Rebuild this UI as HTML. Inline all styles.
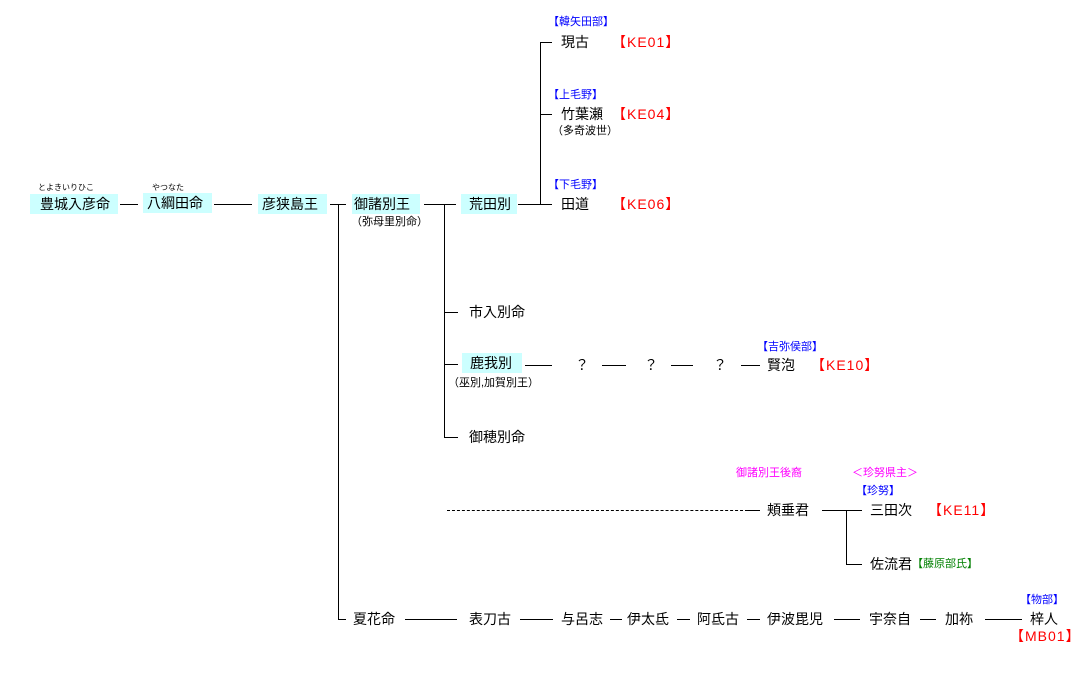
<!DOCTYPE html>
<html><head><meta charset="utf-8"><style>
body{margin:0;width:1085px;height:682px;background:#fff;position:relative;overflow:hidden;font-family:"Liberation Sans","Noto Sans CJK JP",sans-serif;color:#000}
.t{position:absolute;font-size:14px;line-height:20px;white-space:nowrap}
.s{position:absolute;font-size:11px;line-height:14px;white-space:nowrap}
.f{position:absolute;font-size:8px;line-height:10px;white-space:nowrap}
.b{background:#ccffff;padding:0 6px 0 10px}
.h{position:absolute;height:1px;background:#000}
.v{position:absolute;width:1px;background:#000}
.bl{color:#0000ff}.r{color:#ff0000;letter-spacing:1px}.m{color:#ff00ff}.g{color:#008000}
</style></head><body>
<div class="f" style="left:38px;top:183px">とよきいりひこ</div>
<div class="t b" style="left:30px;top:194px;width:72px">豊城入彦命</div>
<div class="h" style="left:120px;top:204px;width:18px"></div>
<div class="f" style="left:152px;top:183px">やつなた</div>
<div class="t b" style="left:143px;top:193px;width:59px;padding-left:4px">八綱田命</div>
<div class="h" style="left:214px;top:204px;width:38px"></div>
<div class="t b" style="left:258px;top:194px;width:59px;padding-left:4px">彦狭島王</div>
<div class="h" style="left:330px;top:204px;width:16px"></div>
<div class="v" style="left:338px;top:204px;height:415px"></div>
<div class="h" style="left:338px;top:619px;width:8px"></div>
<div class="t b" style="left:352px;top:194px;width:60px;padding-left:2px">御諸別王</div>
<div class="s" style="left:351px;top:215px">（弥母里別命）</div>
<div class="h" style="left:424px;top:204px;width:32px"></div>
<div class="v" style="left:444px;top:204px;height:233px"></div>
<div class="h" style="left:444px;top:312px;width:14px"></div>
<div class="h" style="left:444px;top:364px;width:14px"></div>
<div class="h" style="left:444px;top:437px;width:14px"></div>
<div class="t b" style="left:461px;top:194px;width:42px;padding-left:8px">荒田別</div>
<div class="h" style="left:518px;top:204px;width:34px"></div>
<div class="v" style="left:540px;top:42px;height:162px"></div>
<div class="h" style="left:540px;top:42px;width:12px"></div>
<div class="h" style="left:540px;top:114px;width:12px"></div>
<div class="s bl" style="left:548px;top:15px">【韓矢田部】</div>
<div class="t" style="left:561px;top:32px">現古</div>
<div class="t r" style="left:612px;top:32px">【KE01】</div>
<div class="s bl" style="left:548px;top:88px">【上毛野】</div>
<div class="t" style="left:561px;top:104px">竹葉瀬</div>
<div class="t r" style="left:612px;top:104px">【KE04】</div>
<div class="s" style="left:552px;top:124px">（多奇波世）</div>
<div class="s bl" style="left:548px;top:178px">【下毛野】</div>
<div class="t" style="left:561px;top:194px">田道</div>
<div class="t r" style="left:612px;top:194px">【KE06】</div>
<div class="t" style="left:469px;top:302px">市入別命</div>
<div class="t b" style="left:462px;top:353px;width:46px;padding-left:8px">鹿我別</div>
<div class="s" style="left:448px;top:376px">（巫別,加賀別王）</div>
<div class="h" style="left:525px;top:365px;width:27px"></div>
<div class="t" style="left:575px;top:355px">？</div>
<div class="h" style="left:602px;top:365px;width:24px"></div>
<div class="t" style="left:644px;top:355px">？</div>
<div class="h" style="left:671px;top:365px;width:22px"></div>
<div class="t" style="left:713px;top:355px">？</div>
<div class="h" style="left:741px;top:365px;width:19px"></div>
<div class="s bl" style="left:757px;top:340px">【吉弥侯部】</div>
<div class="t" style="left:767px;top:355px">賢泡</div>
<div class="t r" style="left:811px;top:355px">【KE10】</div>
<div class="t" style="left:469px;top:427px">御穂別命</div>
<div class="s m" style="left:736px;top:466px">御諸別王後裔</div>
<div class="s m" style="left:852px;top:466px">＜珍努県主＞</div>
<div class="s bl" style="left:856px;top:484px">【珍努】</div>
<div style="position:absolute;left:447px;top:510px;width:301px;border-top:1px dashed #000"></div>
<div class="h" style="left:748px;top:510px;width:12px"></div>
<div class="t" style="left:767px;top:500px">頬垂君</div>
<div class="h" style="left:822px;top:510px;width:40px"></div>
<div class="v" style="left:846px;top:510px;height:54px"></div>
<div class="h" style="left:846px;top:564px;width:16px"></div>
<div class="t" style="left:870px;top:500px">三田次</div>
<div class="t r" style="left:928px;top:500px">【KE11】</div>
<div class="t" style="left:870px;top:554px">佐流君</div>
<div class="s g" style="left:912px;top:557px">【藤原部氏】</div>
<div class="t" style="left:353px;top:609px">夏花命</div>
<div class="h" style="left:405px;top:619px;width:52px"></div>
<div class="t" style="left:469px;top:609px">表刀古</div>
<div class="h" style="left:520px;top:619px;width:33px"></div>
<div class="t" style="left:561px;top:609px">与呂志</div>
<div class="h" style="left:610px;top:619px;width:12px"></div>
<div class="t" style="left:627px;top:609px">伊太氐</div>
<div class="h" style="left:677px;top:619px;width:13px"></div>
<div class="t" style="left:697px;top:609px">阿氐古</div>
<div class="h" style="left:747px;top:619px;width:13px"></div>
<div class="t" style="left:767px;top:609px">伊波毘児</div>
<div class="h" style="left:834px;top:619px;width:26px"></div>
<div class="t" style="left:869px;top:609px">宇奈自</div>
<div class="h" style="left:920px;top:619px;width:16px"></div>
<div class="t" style="left:945px;top:609px">加袮</div>
<div class="h" style="left:985px;top:619px;width:37px"></div>
<div class="s bl" style="left:1020px;top:593px">【物部】</div>
<div class="t" style="left:1030px;top:609px">梓人</div>
<div class="t r" style="left:1010px;top:626px">【MB01】</div>
</body></html>
